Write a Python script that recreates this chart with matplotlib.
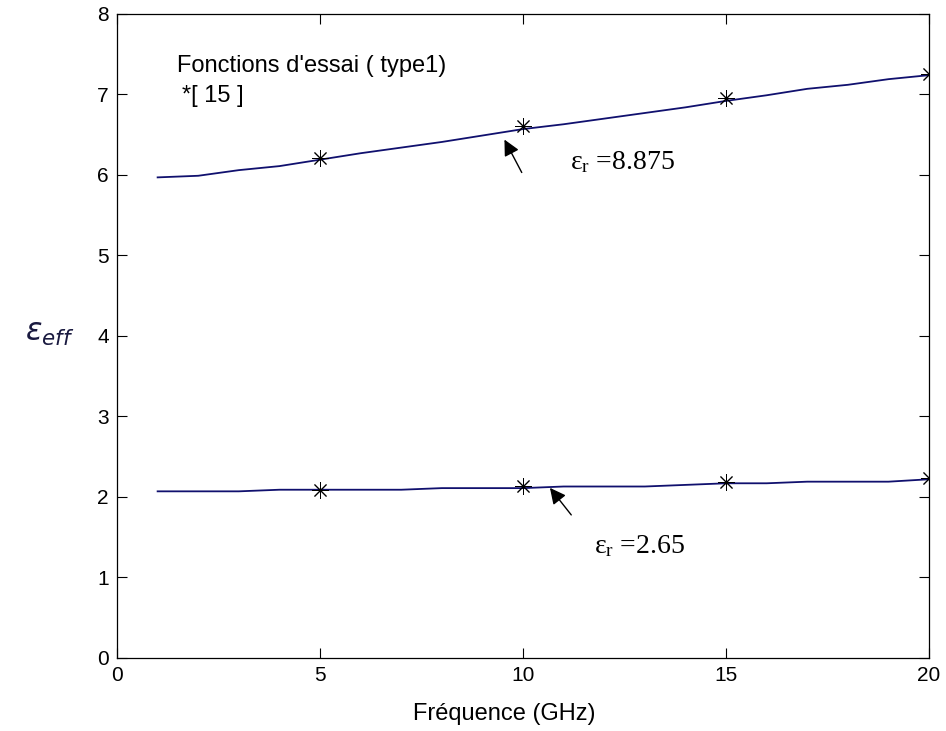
import matplotlib
matplotlib.use('Agg')
from matplotlib import pyplot as plt
import numpy as np

plt.rcParams['font.family'] = ['Liberation Sans', 'DejaVu Sans']

# frequency sweep (GHz) and computed effective permittivity curves
freq = np.arange(1, 21)
eps_high = [5.97, 5.99, 6.06, 6.11, 6.19, 6.27, 6.34, 6.41, 6.49, 6.57,
            6.63, 6.70, 6.77, 6.84, 6.92, 6.99, 7.07, 7.12, 7.19, 7.24]
eps_low = [2.07, 2.07, 2.07, 2.09, 2.09, 2.09, 2.09, 2.11, 2.11, 2.11,
           2.13, 2.13, 2.13, 2.15, 2.17, 2.17, 2.19, 2.19, 2.19, 2.22]

# reference points from [15]
ref_freq = [5, 10, 15, 20]
ref_high = [6.21, 6.61, 6.96, 7.26]
ref_low = [2.09, 2.14, 2.19, 2.24]

fig = plt.figure(figsize=(9.46, 7.31), dpi=100)
ax = fig.add_axes([0.1237, 0.0999, 0.8584, 0.8810])

ax.plot(freq, eps_high, color='#10106e', lw=1.3)
ax.plot(freq, eps_low, color='#10106e', lw=1.3)
# asterisk markers (+ and x overlaid)
ax.plot(ref_freq, ref_high, ls='none', marker=(8, 2, 0), color='k', ms=12, mew=0.7)
ax.plot(ref_freq, ref_low, ls='none', marker=(8, 2, 0), color='k', ms=12, mew=0.7)

ax.set_xlim(0, 20)
ax.set_ylim(0, 8)
ax.set_xticks([0, 5, 10, 15, 20])
ax.set_yticks(range(0, 9))
ax.tick_params(direction='in', length=7, width=0.8, top=True, right=True,
               labelsize=15, pad=6)
for s in ax.spines.values():
    s.set_linewidth(0.9)

fig.text(0.533, 0.0155, 'Fréquence (GHz)', fontsize=17, ha='center', va='baseline')
fig.text(0.053, 0.5445, r'$\varepsilon_{eff}$', fontsize=22, ha='center',
         va='center', color='#1a1a40')

ax.text(1.48, 7.28, "Fonctions d'essai ( type1)", fontsize=17)
ax.text(1.6, 6.91, '*[ 15 ]', fontsize=17)

tfont = {'family': ['Liberation Serif', 'DejaVu Serif'], 'size': 20}
ax.annotate('', xy=(9.51, 6.47), xytext=(10.0, 6.0),
            arrowprops=dict(arrowstyle='-|>', color='k', lw=1, mutation_scale=24))
ax.text(11.15, 6.07, r'$\mathregular{\varepsilon_r}$ =8.875', fontdict=tfont)
ax.annotate('', xy=(10.62, 2.14), xytext=(11.23, 1.75),
            arrowprops=dict(arrowstyle='-|>', color='k', lw=1, mutation_scale=24))
ax.text(11.75, 1.3, r'$\mathregular{\varepsilon_r}$ =2.65', fontdict=tfont)

fig.savefig('out.png', dpi=100)
